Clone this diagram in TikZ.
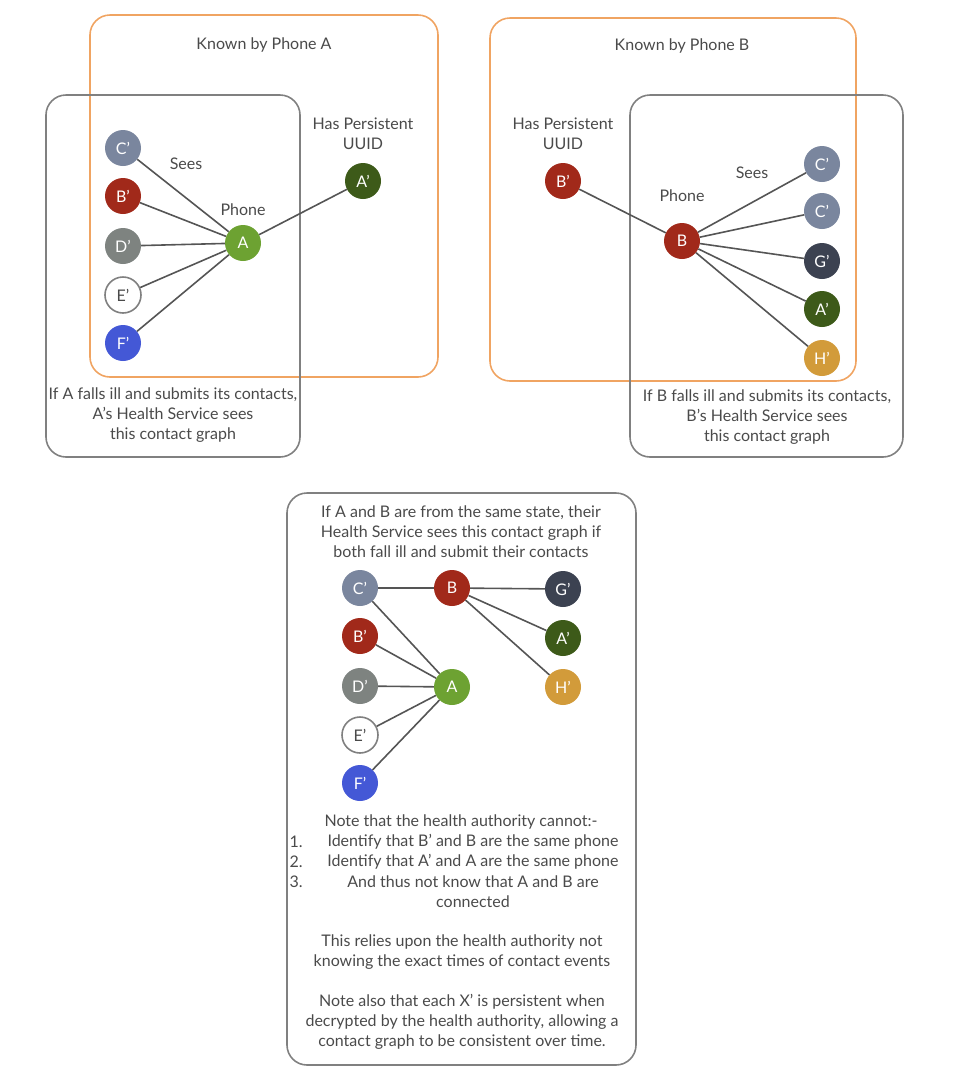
\documentclass[tikz,border=0pt]{standalone}
\usepackage{fontspec}
\setmainfont{Lato}
\usepackage{tikz}

\definecolor{slate}{HTML}{7A869E}
\definecolor{brick}{HTML}{A1291A}
\definecolor{stone}{HTML}{7E8380}
\definecolor{royal}{HTML}{4458D6}
\definecolor{leaf}{HTML}{6DA232}
\definecolor{moss}{HTML}{3D5A19}
\definecolor{night}{HTML}{3C4251}
\definecolor{gold}{HTML}{D29B3A}
\definecolor{knownorange}{HTML}{F0A462}
\definecolor{boxgray}{HTML}{808080}
\definecolor{txtgray}{HTML}{4A4A4A}
\definecolor{linegray}{HTML}{555555}

\begin{document}
\begin{tikzpicture}[x=1pt, y=-1pt, font=\fontsize{16}{20}\selectfont,
  ph/.style={circle, minimum size=36pt, inner sep=0pt, text=white},
  lbl/.style={text=txtgray, align=center},
  edge/.style={draw=linegray, line width=1.6pt},
  known/.style={draw=knownorange, line width=1.6pt, rounded corners=20pt},
  health/.style={draw=boxgray, line width=1.6pt, rounded corners=20pt}]

\useasboundingbox (0,0) rectangle (954,1080);

% frames
\draw[known] (90,15) rectangle (438,377);
\draw[health] (46,95) rectangle (300,457);
\draw[known] (490,18) rectangle (856,381);
\draw[health] (630,95) rectangle (903,457);
\draw[health] (287,493) rectangle (636,1065);

% phone A
\draw 
(123,148) node[ph, fill=slate](ac){C'}
(123,196) node[ph, fill=brick](ab){B'}
(123,246) node[ph, fill=stone](ad){D'}
(123,295) node[ph, fill=white, draw=boxgray, line width=1.6pt, text=txtgray](ae){E'}
(123,343) node[ph, fill=royal](af){F'}
(243,243) node[ph, fill=leaf](a){A}
(363,181) node[ph, fill=moss](aa){A'};

\draw[edge] (ac) -- (a);
\draw[edge] (ab) -- (a);
\draw[edge] (ad) -- (a);
\draw[edge] (ae) -- (a);
\draw[edge] (af) -- (a);
\draw[edge] (a) -- (aa);

\node[lbl] (knowna) at (264,45) {Known by Phone A};
\node[lbl] (uuida) at (363,134) {Has Persistent\\UUID};
\node[lbl] (seesa) at (186,164) {Sees};
\node[lbl] (phonea) at (243,210) {Phone};
\node[lbl] (illa) at (173,415) {If A falls ill and submits its contacts,\\A's Health Service sees\\this contact graph};

% phone B
\draw 
(563,181) node[ph, fill=brick](bb){B'}
(682,241) node[ph, fill=brick](b){B}
(822,164) node[ph, fill=slate](bc){C'}
(822,211) node[ph, fill=slate](bc2){C'}
(822,261) node[ph, fill=night](bg){G'}
(822,309) node[ph, fill=moss](ba){A'}
(822,358) node[ph, fill=gold](bh){H'};

\draw[edge] (bb) -- (b);
\draw[edge] (b) -- (bc);
\draw[edge] (b) -- (bc2);
\draw[edge] (b) -- (bg);
\draw[edge] (b) -- (ba);
\draw[edge] (b) -- (bh);

\node[lbl] (knownb) at (682,46) {Known by Phone B};
\node[lbl] (uuidb) at (563,134) {Has Persistent\\UUID};
\node[lbl] (seesb) at (752,173) {Sees};
\node[lbl] (phoneb) at (682,196) {Phone};
\node[lbl] (illb) at (767,417) {If B falls ill and submits its contacts,\\B's Health Service sees\\this contact graph};

% both
\node[lbl] (same) at (461,532) {If A and B are from the same state, their\\Health Service sees this contact graph if\\both fall ill and submit their contacts};

\draw 
(360,588) node[ph, fill=slate](cc){C'}
(360,636) node[ph, fill=brick](cb){B'}
(360,686) node[ph, fill=stone](cd){D'}
(360,735) node[ph, fill=white, draw=boxgray, line width=1.6pt, text=txtgray](ce){E'}
(360,783) node[ph, fill=royal](cf){F'}
(452,687) node[ph, fill=leaf](ca){A}
(452,588) node[ph, fill=brick](cbb){B}
(563,589) node[ph, fill=night](cg){G'}
(563,638) node[ph, fill=moss](caa){A'}
(563,687) node[ph, fill=gold](ch){H'};

\draw[edge] (cc) -- (cbb);
\draw[edge] (cbb) -- (cg);
\draw[edge] (cbb) -- (caa);
\draw[edge] (cbb) -- (ch);
\draw[edge] (cc) -- (ca);
\draw[edge] (cb) -- (ca);
\draw[edge] (cd) -- (ca);
\draw[edge] (ce) -- (ca);
\draw[edge] (cf) -- (ca);

\node[lbl] (note) at (461,822) {Note that the health authority cannot:-};
\node[lbl, anchor=west] (n1) at (286,842) {1.};
\node[lbl, anchor=west] (n2) at (286,862) {2.};
\node[lbl, anchor=west] (n3) at (286,882) {3.};
\node[lbl] (i1) at (473,842) {Identify that B' and B are the same phone};
\node[lbl] (i2) at (473,862) {Identify that A' and A are the same phone};
\node[lbl] (i3) at (473,892) {And thus not know that A and B are\\connected};
\node[lbl] (relies) at (462,952) {This relies upon the health authority not\\knowing the exact times of contact events};
\node[lbl] (also) at (462,1022) {Note also that each X' is persistent when\\decrypted by the health authority, allowing a\\contact graph to be consistent over time.};

\end{tikzpicture}
\end{document}
